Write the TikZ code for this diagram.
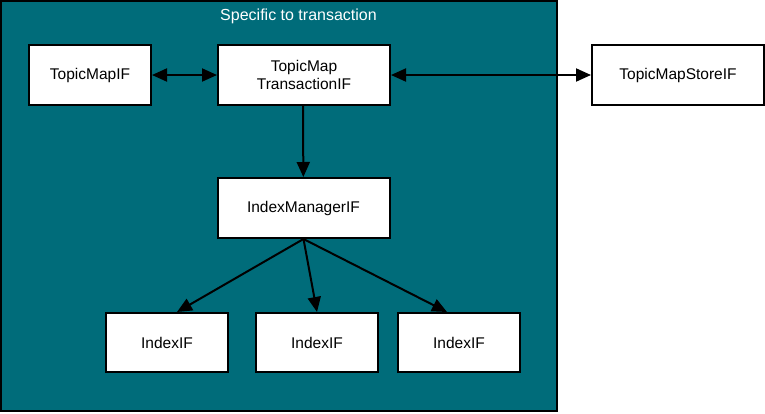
\documentclass[tikz,border=0pt]{standalone}
\usepackage{fontspec}
\setmainfont{Liberation Sans}
\usepackage{xcolor}
\usepackage{tikz}
\usetikzlibrary{positioning,arrows.meta}
\definecolor{transteal}{RGB}{0,108,122}

\begin{document}
\begin{tikzpicture}[x=1pt, y=-1pt,
    ifbox/.style={draw=black, line width=2pt, fill=white, inner sep=0pt,
      minimum height=60pt, align=center, font=\fontsize{15.5}{18}\selectfont},
    link/.style={line width=2pt, -{Triangle[length=15pt,width=13pt]}},
    biglink/.style={line width=2pt, {Triangle[length=15pt,width=13pt]}-{Triangle[length=15pt,width=13pt]}}]
    \useasboundingbox (0,0) rectangle (765,413);
    % transaction area
    \draw[black, line width=2pt, fill=transteal] (1,1) rectangle (557,411);
    \node[white, font=\fontsize{16}{18}\selectfont] (title) at (298.5,16) {Specific to transaction};
    \node[ifbox, minimum width=122pt] (tm) at (90,75) {TopicMapIF};
    \node[ifbox, minimum width=172pt] (tmt) at (304,75) {TopicMap\\TransactionIF};
    \node[ifbox, minimum width=172pt] (store) at (678,75) {TopicMapStoreIF};
    \node[ifbox, minimum width=172pt] (im) at (303.5,208) {IndexManagerIF};
    \node[ifbox, minimum width=122pt, minimum height=59pt] (ix1) at (167,342.5) {IndexIF};
    \node[ifbox, minimum width=122pt, minimum height=59pt] (ix2) at (317,342.5) {IndexIF};
    \node[ifbox, minimum width=122pt, minimum height=59pt] (ix3) at (459,342.5) {IndexIF};
    % connectors
    \draw[biglink] (tm) -- (tmt);
    \draw[biglink] (tmt) -- (store);
    \draw[link] ([xshift=-1pt]tmt.south) -- (im);
    \draw[link] (im.south) -- ([xshift=10pt]ix1.north);
    \draw[link] (im.south) -- (ix2.north);
    \draw[link] (im.south) -- ([xshift=-12pt]ix3.north);
  \end{tikzpicture}
\end{document}
